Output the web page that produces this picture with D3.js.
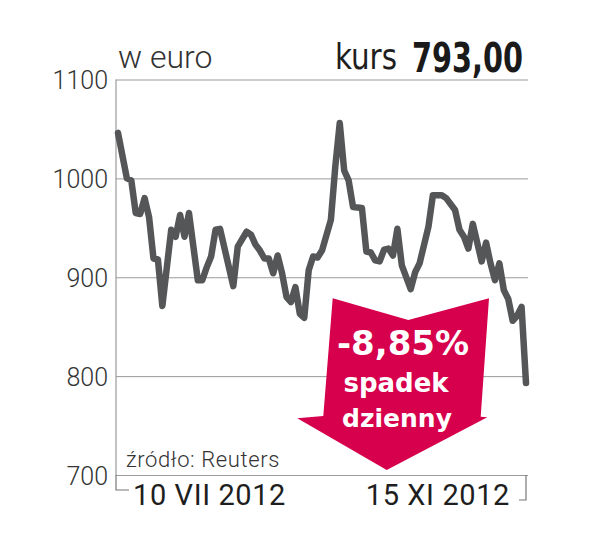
<!DOCTYPE html>
<html>
<head>
<meta charset="utf-8">
<script src="https://cdn.jsdelivr.net/npm/d3@7"></script>
<style>
  body { margin: 0; background: #fff; }
  svg { display: block; }
</style>
</head>
<body>
<svg id="chart" width="609" height="551"></svg>
<script>
// Kurs w euro, 10 VII 2012 - 15 XI 2012 (index = trading day)
var dayIndex = [0, 2, 3, 4, 5, 6, 7, 8, 9, 10, 12, 13, 14, 15, 16, 18, 19, 20, 21, 22, 23,
    26, 27, 29, 30, 31, 32, 33, 34, 35, 36, 37, 38, 39, 40, 41, 42, 43, 44, 45, 46, 48,
    49, 50, 51, 52, 53, 55, 56, 57, 58, 59, 60, 61, 62, 63, 64, 66, 67, 68, 70, 71, 73,
    74, 76, 77, 78, 79, 80, 82, 83, 84, 85, 86, 87, 88, 89, 90, 91, 92];
var price = [1046, 1000, 998, 965, 964, 980, 961, 919, 918, 871, 948, 941, 963, 941, 965, 897, 897, 910, 921, 948, 949,
    891, 931, 946, 943, 933, 927, 919, 919, 904, 922, 904, 880, 875, 890, 863, 859, 907, 921, 920, 927, 958,
    1012, 1056, 1008, 998, 971, 970, 926, 925, 917, 916, 928, 929, 922, 949, 912, 888, 905, 914, 951, 983, 983,
    980, 968, 948, 941, 929, 954, 916, 935, 914, 897, 914, 887, 878, 856, 861, 870, 793];
var lastDay = 92;

var yTicks = [700, 800, 900, 1000, 1100];
var dateLabels = ["10 VII 2012", "15 XI 2012"];
var unitLabel = "w euro";
var kursLabel = "kurs";
var kursValue = "793,00";
var changeLines = ["-8,85%", "spadek", "dzienny"];
var sourceLabel = "źródło: Reuters";

var data = dayIndex.map(function(d, i) { return {day: d, value: price[i]}; });

// figure dimensions
var margin = {top: 79.5, left: 116},
    width = 412,
    height = 395.5;

var svg = d3.select("#chart");
var g = svg.append("g").attr("transform", "translate(" + margin.left + "," + margin.top + ")");

var x = d3.scaleLinear().domain([0, lastDay]).range([2, 410]);
var y = d3.scaleLinear().domain([700, 1100]).range([height, 0]);

// grid + y labels
var yAxis = g.append("g")
    .call(d3.axisLeft(y).tickValues(yTicks).tickSize(-width).tickPadding(8).tickFormat(d3.format("d")));
yAxis.select(".domain").remove();
yAxis.selectAll(".tick line").attr("stroke", "#9a9a9a").attr("stroke-width", 1);
yAxis.selectAll(".tick text")
    .attr("fill", "#333")
    .style("font-family", "Roboto, sans-serif")
    .style("font-weight", 300)
    .style("font-size", "25px")
    .attr("dy", "0.36em");

// vertical axis line
g.append("line")
    .attr("x1", 0).attr("x2", 0)
    .attr("y1", 0).attr("y2", height)
    .attr("stroke", "#9a9a9a").attr("stroke-width", 1.2);

// brackets below the baseline marking first and last day
g.append("path")
    .attr("d", "M0," + height + "V" + (height + 15) + "H13")
    .attr("fill", "none").attr("stroke", "#777").attr("stroke-width", 1.2);
g.append("path")
    .attr("d", "M" + x(lastDay) + "," + height + "V" + (height + 25) + "H" + (x(lastDay) - 7))
    .attr("fill", "none").attr("stroke", "#777").attr("stroke-width", 1.2);

// date labels
g.append("text")
    .attr("x", x(0) + 15).attr("y", height + 30)
    .attr("fill", "#1e1e1e")
    .style("font-family", "Roboto, sans-serif")
    .style("font-size", "29px")
    .style("letter-spacing", "0.6px")
    .text(dateLabels[0]);
g.append("text")
    .attr("x", x(lastDay) - 16).attr("y", height + 30)
    .attr("text-anchor", "end")
    .attr("fill", "#1e1e1e")
    .style("font-family", "Roboto, sans-serif")
    .style("font-size", "29px")
    .style("letter-spacing", "0.6px")
    .text(dateLabels[1]);

// source
g.append("text")
    .attr("x", 10).attr("y", height - 8)
    .attr("fill", "#333")
    .style("font-family", "Roboto, sans-serif")
    .style("font-weight", 300)
    .style("font-size", "22px")
    .style("letter-spacing", "0.6px")
    .text(sourceLabel);

// price line
var line = d3.line()
    .x(function(d) { return x(d.day); })
    .y(function(d) { return y(d.value); });

g.append("path")
    .datum(data)
    .attr("d", line)
    .attr("fill", "none")
    .attr("stroke", "#555657")
    .attr("stroke-width", 6.5)
    .attr("stroke-linejoin", "round")
    .attr("stroke-linecap", "round");

// red arrow with daily change
var arrowPts = [[332.7, 298.3], [408.3, 320], [489, 298.3], [480.7, 416.7], [487.3, 417.3],
    [386.7, 470], [297.3, 418.3], [323.3, 416]];
svg.append("polygon")
    .attr("points", arrowPts.map(function(p) { return p.join(","); }).join(" "))
    .attr("fill", "#d6004c");

svg.append("text")
    .attr("x", 403).attr("y", 355)
    .attr("text-anchor", "middle")
    .attr("fill", "#fff")
    .style("font-family", "'DejaVu Sans', sans-serif")
    .style("font-weight", "bold")
    .style("font-size", "34px")
    .text(changeLines[0]);
svg.append("text")
    .attr("x", 396).attr("y", 391.5)
    .attr("text-anchor", "middle")
    .attr("fill", "#fff")
    .style("font-family", "'DejaVu Sans', sans-serif")
    .style("font-weight", "bold")
    .style("font-size", "26px")
    .text(changeLines[1]);
svg.append("text")
    .attr("x", 397).attr("y", 426.5)
    .attr("text-anchor", "middle")
    .attr("fill", "#fff")
    .style("font-family", "'DejaVu Sans', sans-serif")
    .style("font-weight", "bold")
    .style("font-size", "25px")
    .text(changeLines[2]);

// header
svg.append("text")
    .attr("x", 118).attr("y", 68)
    .attr("fill", "#333")
    .style("font-family", "Roboto, sans-serif")
    .style("font-weight", 300)
    .style("font-size", "32px")
    .text(unitLabel);
svg.append("text")
    .attr("x", 335).attr("y", 69)
    .attr("fill", "#1e1e1e")
    .attr("textLength", 62)
    .attr("lengthAdjust", "spacingAndGlyphs")
    .style("font-family", "'DejaVu Sans Condensed', sans-serif")
    .style("font-size", "35px")
    .text(kursLabel);
svg.append("text")
    .attr("x", 412).attr("y", 71.5)
    .attr("fill", "#1a1a1a")
    .attr("textLength", 111)
    .attr("lengthAdjust", "spacingAndGlyphs")
    .style("font-family", "'DejaVu Sans Condensed', sans-serif")
    .style("font-weight", "bold")
    .style("font-size", "40px")
    .text(kursValue);
</script>
</body>
</html>
